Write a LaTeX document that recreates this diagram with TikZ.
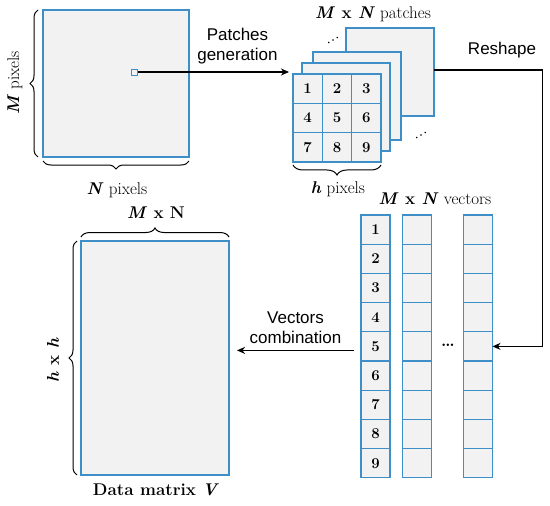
\documentclass[tikz,border=0pt]{standalone}
\usepackage{fontspec}
\newfontfamily\labelsans{Liberation Sans}
\usetikzlibrary{arrows.meta, positioning, calc, decorations.pathreplacing}
\definecolor{cellblue}{RGB}{62,142,200}
\definecolor{cellgray}{RGB}{242,242,242}

\begin{document}
\begin{tikzpicture}[x=1pt, y=-1pt,
  every node/.style={font=\fontsize{17}{19}\selectfont, inner sep=0pt},
  sq/.style={draw=cellblue, fill=cellgray, line width=1.3pt, inner sep=0pt, outer sep=0pt},
  cell/.style={sq, minimum width=29pt, minimum height=29.2pt, font=\fontsize{15}{17}\selectfont\bfseries},
  sans/.style={font=\fontsize{17}{20}\labelsans, align=center},
  arr/.style={-{Stealth[length=8pt,width=7pt,inset=2.5pt]}, line width=1.3pt},
  brc/.style={decorate, decoration={brace, amplitude=#1}, line width=1pt},
  brc/.default=8pt
]
  \useasboundingbox (0,0) rectangle (550,506);

  % input image
  \node[sq, minimum width=146pt, minimum height=147pt] (image) at (116,83.5) {};
  \node[sq, minimum size=6pt, line width=1pt] (patch) at (134.5,72) {};
  \draw[brc] ([xshift=-5pt]image.south west) -- ([xshift=-5pt]image.north west);
  \draw[brc] ([yshift=-4pt]image.south east) -- ([yshift=-4pt]image.south west);
  \node[rotate=90] (mpix) at (15,83) {\textbf{\textit{M}} pixels};
  \node (npix) at (117,190) {\textbf{\textit{N}} pixels};

  % patches stack
  \node[sq, minimum size=88pt] (layerA) at (390,72) {};
  \node[sq, minimum size=88pt] (layerB) at (357,96) {};
  \node[sq, minimum size=88pt] (layerC) at (346,107) {};
  \foreach \n in {1,...,9}{
    \pgfmathsetmacro\col{mod(\n-1,3)}
    \pgfmathsetmacro\row{int((\n-1)/3)}
    \node[cell, minimum width=29.33pt, minimum height=29.33pt] (p\n) at (307.67+29.33*\col, 88.67+29.33*\row) {\n};
  }
  \coordinate (dotsA) at (333,40);
  \coordinate (dotsB) at (421,135);
  \foreach \d in {-1,0,1}{
    \fill ($(dotsA)+(\d*4.3,-\d*2.5)$) circle (0.9pt);
    \fill ($(dotsB)+(\d*4.3,-\d*2.5)$) circle (0.9pt);
  }
  \draw[brc=10pt] ([yshift=-3pt]p9.south east) -- ([yshift=-3pt]p7.south west);
  \node (hpix) at (338,189) {\textbf{\textit{h}} pixels};
  \node (mnpatch) at (373,14) {\textbf{\textit{M} x \textit{N}} patches};

  % vectors
  \foreach \c/\x in {1/375.5, 2/417, 3/478}
    \foreach \k in {1,...,9}
      \node[cell] (v\c-\k) at (\x, 200.4+29.2*\k) {\ifnum\c=1 \k\fi};
  \node (dotsC) at (448,345) {\textbf{\dots}};
  \node (mnvec) at (435,199) {\textbf{\textit{M} x \textit{N}} vectors};

  % data matrix
  \node[sq, minimum width=148pt, minimum height=234pt] (dm) at (155,358) {};
  \draw[brc=9pt] ([yshift=4pt]dm.north west) -- ([yshift=4pt]dm.north east);
  \draw[brc] ([xshift=-4pt]dm.south west) -- ([xshift=-4pt]dm.north west);
  \node (mn) at (156,213) {\textbf{\textit{M} x N}};
  \node[rotate=90] (hh) at (53,360) {\textbf{\textit{h} x \textit{h}}};
  \node (dmlbl) at (156,490) {\textbf{Data matrix \textit{V}}};

  % connectors
  \coordinate (pgend) at (289,72);
  \draw[arr] (patch.east) -- node[sans, above=7pt, pos=0.66] {Patches\\generation} (pgend);
  \draw[arr] ([yshift=2pt]layerA.east) -| ([xshift=50pt]v3-5.east) -- (v3-5.east);
  \node[sans] (reshape) at (502,50) {Reshape};
  \draw[arr] ([xshift=-7pt,yshift=-4pt]v1-5.west) -- node[sans, above=6pt] {Vectors\\combination} ($(v1-5.west -| dm.east)+(8,4)$);
\end{tikzpicture}
\end{document}
